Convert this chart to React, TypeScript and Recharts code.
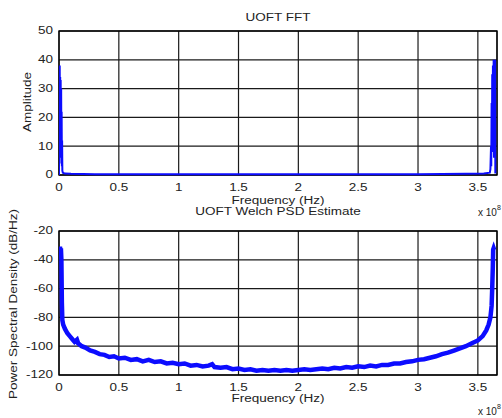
import React from "react";
import { LineChart, Line, XAxis, YAxis, CartesianGrid, ReferenceArea } from "recharts";

// Frequency axis is in units of 1e8 Hz
const xTicks = [0, 0.5, 1, 1.5, 2, 2.5, 3, 3.5];
const fftTicks = [0, 10, 20, 30, 40, 50];
const psdTicks = [-120, -100, -80, -60, -40, -20];

const fftFreq = [
  0, 0.002, 0.004, 0.006, 0.008, 0.01, 0.012, 0.014, 0.016, 0.018, 0.02, 0.022, 0.024, 0.026, 0.028, 0.032,
  0.05, 0.1, 0.3, 0.6, 1.0, 1.5, 2.0, 2.5, 3.0, 3.4, 3.55, 3.6, 3.605, 3.61, 3.612, 3.615, 3.618, 3.62,
  3.623, 3.626, 3.629, 3.632, 3.635, 3.638, 3.641, 3.644, 3.646,
];
const fftAmp = [
  0, 36, 8, 38, 12, 34, 6, 33, 10, 30, 4, 22, 3, 12, 1.5, 0.8,
  0.5, 0.4, 0.3, 0.3, 0.3, 0.3, 0.3, 0.3, 0.3, 0.4, 0.5, 0.8, 2, 10, 3, 25, 8, 35,
  12, 38, 15, 40, 6, 40, 10, 40, 0.5,
];

const psdFreq = [
  0.004, 0.008, 0.012, 0.016, 0.02, 0.024, 0.028, 0.035, 0.05, 0.07, 0.09, 0.11, 0.13, 0.15, 0.16, 0.19,
  0.22, 0.26, 0.3, 0.34, 0.38, 0.42, 0.46, 0.5, 0.55, 0.6, 0.65, 0.7, 0.75, 0.8, 0.85, 0.9, 0.95, 1.0,
  1.05, 1.1, 1.15, 1.2, 1.25, 1.28, 1.3, 1.35, 1.4, 1.45, 1.5, 1.55, 1.6, 1.65, 1.7, 1.75, 1.8, 1.85,
  1.9, 1.95, 2.0, 2.05, 2.1, 2.15, 2.2, 2.25, 2.3, 2.35, 2.4, 2.45, 2.5, 2.55, 2.6, 2.65, 2.7, 2.75,
  2.8, 2.85, 2.9, 2.95, 3.0, 3.05, 3.1, 3.15, 3.2, 3.25, 3.3, 3.35, 3.4, 3.45, 3.5, 3.54, 3.57, 3.59,
  3.605, 3.615, 3.62, 3.625, 3.628, 3.632, 3.636,
];
const psdDb = [
  -33, -31, -34, -32, -40, -70, -82, -85, -88, -91, -93, -95, -97, -95.5, -98, -100,
  -101, -103, -104, -105.5, -106, -107.5, -107, -108.5, -108, -109.5, -109, -110.5, -109.5, -111, -110.5, -112, -111.5, -112.5,
  -112, -113.5, -113, -114, -113.5, -112.5, -114.5, -115, -114.5, -116, -115.5, -116.5, -116, -117, -116.5, -117, -116.5, -117,
  -116.5, -117, -116.5, -116, -116.5, -116, -115.5, -116, -115, -115.5, -114.5, -115, -114, -114.5, -113.5, -114, -113, -113,
  -112, -112, -111, -110.5, -109.5, -109, -108, -107, -105.5, -104.5, -103, -101.5, -100, -98, -96, -93, -89, -85,
  -80, -72, -60, -45, -33, -32, -33,
];

const fftData = fftFreq.map((f, i) => ({ f, a: fftAmp[i] }));
const psdData = psdFreq.map((f, i) => ({ f, p: psdDb[i] }));

const FONT = '"Liberation Sans", Arial, sans-serif';
const TXT = "#222";
const SX = 1.35;

const XTick = (props: any) => {
  const { x, y, payload } = props;
  return (
    <g transform={`translate(${x},${y + 7})`}>
      <text transform={`scale(${SX},1)`} textAnchor="middle" dominantBaseline="central" fontSize={10} fontFamily={FONT} fill={TXT}>
        {String(payload.value)}
      </text>
    </g>
  );
};

const YTick = (props: any) => {
  const { x, y, payload } = props;
  return (
    <g transform={`translate(${x},${y})`}>
      <text transform={`scale(${SX},1)`} textAnchor="end" dominantBaseline="central" fontSize={10} fontFamily={FONT} fill={TXT}>
        {String(payload.value)}
      </text>
    </g>
  );
};

const Lbl = ({ x, y, text, rot }: { x: number; y: number; text: string; rot?: boolean }) => (
  <div
    style={{
      position: "absolute",
      left: x,
      top: y,
      transform: `translate(-50%,-50%) ${rot ? "rotate(-90deg) " : ""}scaleX(${SX})`,
      whiteSpace: "nowrap",
      fontSize: 10,
      lineHeight: 1,
      fontFamily: FONT,
      color: TXT,
    }}
  >
    {text}
  </div>
);

const Exp = ({ x, y }: { x: number; y: number }) => (
  <div style={{ position: "absolute", left: x, top: y, whiteSpace: "nowrap", fontSize: 10, lineHeight: 1, fontFamily: FONT, color: TXT }}>
    x 10<span style={{ fontSize: 7, position: "relative", top: -6 }}>8</span>
  </div>
);

const BLUE = "#0c0cff";
const GRID = "#1a1a1a";

export default function App() {
  return (
    <div style={{ position: "absolute", left: 0, top: 0, width: 502, height: 418, background: "#fff", overflow: "hidden" }}>
      <div style={{ position: "absolute", left: 0, top: 0 }}>
        <LineChart width={502} height={200} data={fftData} margin={{ top: 31, right: 5, bottom: 0, left: 0 }}>
          <CartesianGrid stroke={GRID} strokeWidth={1.2} />
          <XAxis
            type="number"
            dataKey="f"
            domain={[0, 3.66]}
            ticks={xTicks}
            allowDataOverflow
            tickLine={false}
            axisLine={false}
            height={25}
            tickSize={6}
            tickMargin={0}
            tick={<XTick />}
          />
          <YAxis
            type="number"
            domain={[0, 50]}
            ticks={fftTicks}
            tickLine={false}
            axisLine={false}
            width={59}
            tickSize={6}
            tickMargin={0}
            tick={<YTick />}
          />
          <Line type="linear" dataKey="a" stroke={BLUE} strokeWidth={2} dot={false} isAnimationActive={false} />
          <ReferenceArea x1={0} x2={3.66} y1={0} y2={50} fill="none" stroke="#000" strokeWidth={1.3} />
        </LineChart>
      </div>
      <div style={{ position: "absolute", left: 0, top: 200 }}>
        <LineChart width={502} height={218} data={psdData} margin={{ top: 31, right: 5, bottom: 18, left: 0 }}>
          <CartesianGrid stroke={GRID} strokeWidth={1.2} />
          <XAxis
            type="number"
            dataKey="f"
            domain={[0, 3.66]}
            ticks={xTicks}
            allowDataOverflow
            tickLine={false}
            axisLine={false}
            height={25}
            tickSize={6}
            tickMargin={0}
            tick={<XTick />}
          />
          <YAxis
            type="number"
            domain={[-120, -20]}
            ticks={psdTicks}
            tickLine={false}
            axisLine={false}
            width={59}
            tickSize={6}
            tickMargin={0}
            tick={<YTick />}
          />
          <Line type="linear" dataKey="p" stroke={BLUE} strokeWidth={4.5} dot={false} isAnimationActive={false} />
          <ReferenceArea x1={0} x2={3.66} y1={-120} y2={-20} fill="none" stroke="#000" strokeWidth={1.3} />
        </LineChart>
      </div>
      <Lbl x={278} y={18} text="UOFT FFT" />
      <Lbl x={278} y={201} text="Frequency (Hz)" />
      <Lbl x={278} y={212} text="UOFT Welch PSD Estimate" />
      <Lbl x={278} y={399} text="Frequency (Hz)" />
      <Lbl x={28} y={102} text="Amplitude" rot />
      <Lbl x={14} y={304} text="Power Spectral Density (dB/Hz)" rot />
      <Exp x={478} y={208} />
      <Exp x={478} y={407} />
    </div>
  );
}
